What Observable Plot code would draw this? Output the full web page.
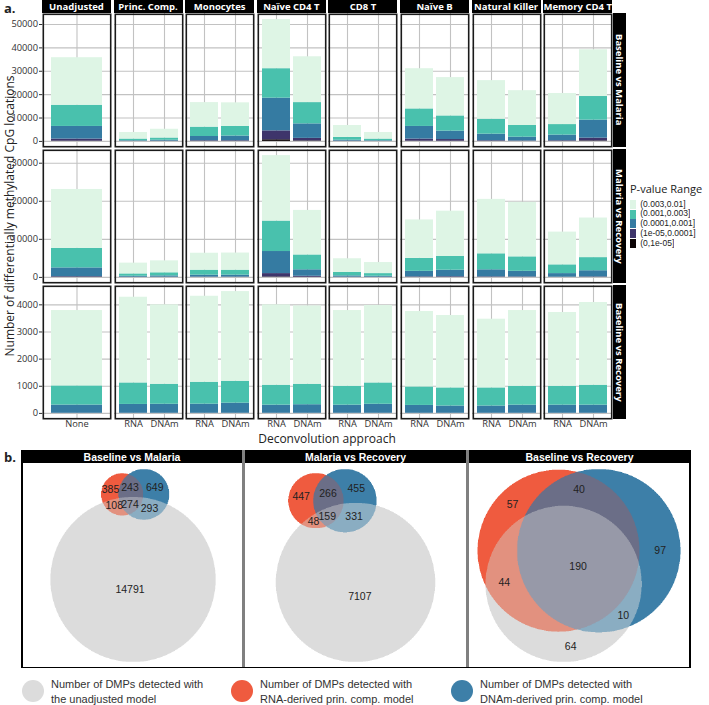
<!DOCTYPE html>
<html><head><meta charset="utf-8">
<script src="https://cdn.jsdelivr.net/npm/d3@7"></script>
<script src="https://cdn.jsdelivr.net/npm/@observablehq/plot@0.6"></script>
<style>
body{margin:0;background:#fff;}
#root{position:relative;width:709px;height:705px;overflow:hidden;font-family:"Open Sans",sans-serif;color:#222;}
.strip{position:absolute;background:#000;color:#fff;font-weight:700;font-size:9.5px;display:flex;align-items:center;justify-content:center;white-space:nowrap;overflow:hidden;}
.vstrip{writing-mode:vertical-rl;}
.bstrip{position:absolute;background:#000;color:#fff;font-weight:700;font-size:10.5px;font-family:"Liberation Sans",Arial,sans-serif;display:flex;align-items:center;justify-content:center;white-space:nowrap;}
.pleg-swatch{padding-bottom:0 !important;line-height:9.8px !important;height:9.8px;}
.bl{position:absolute;font-family:"Liberation Sans",Arial,sans-serif;font-size:11px;color:#333;line-height:14.5px;white-space:nowrap;}
.bdot{position:absolute;width:22px;height:22px;border-radius:50%;}
</style></head><body><div id="root"></div>
<script>
// ---------- DATA ----------
const cellTypes = ["Unadjusted","Princ. Comp.","Monocytes","Naïve CD4 T","CD8 T","Naïve B","Natural Killer","Memory CD4 T"];
const comparisons = ["Baseline vs Malaria","Malaria vs Recovery","Baseline vs Recovery"];
const pBins = ["(0,1e-05]","(1e-05,0.0001]","(0.0001,0.001]","(0.001,0.003]","(0.003,0.01]"];
const binColors = ["#0B0405","#3E356B","#357BA2","#49C1AD","#DEF5E5"];
// counts per bar, one value per p-value bin (lowest bin first)
const baselineVsMalaria = [
  ["Unadjusted","None",[100,900,5400,9066,20334]],
  ["Princ. Comp.","RNA",[20,60,220,710,2790]],
  ["Princ. Comp.","DNAm",[30,90,380,959,3741]],
  ["Monocytes","RNA",[60,240,1800,4000,10500]],
  ["Monocytes","DNAm",[60,240,2000,4100,10100]],
  ["Naïve CD4 T","RNA",[700,3800,14000,12600,21000]],
  ["Naïve CD4 T","DNAm",[200,1100,6200,9100,19600]],
  ["CD8 T","RNA",[30,120,350,1200,5100]],
  ["CD8 T","DNAm",[20,60,220,700,2800]],
  ["Naïve B","RNA",[100,900,5400,7500,17200]],
  ["Naïve B","DNAm",[80,720,3600,6500,16400]],
  ["Natural Killer","RNA",[40,260,2800,6400,16500]],
  ["Natural Killer","DNAm",[30,170,1600,5000,14900]],
  ["Memory CD4 T","RNA",[40,260,2400,4500,13300]],
  ["Memory CD4 T","DNAm",[200,1200,7700,10100,20000]]
];
const malariaVsRecovery = [
  ["Unadjusted","None",[30,170,2300,5145,15455]],
  ["Princ. Comp.","RNA",[10,40,250,620,2830]],
  ["Princ. Comp.","DNAm",[10,50,340,811,3139]],
  ["Monocytes","RNA",[10,70,520,1300,4450]],
  ["Monocytes","DNAm",[10,70,520,1300,4500]],
  ["Naïve CD4 T","RNA",[100,900,5800,8000,17200]],
  ["Naïve CD4 T","DNAm",[30,270,1700,3900,11700]],
  ["CD8 T","RNA",[10,50,340,900,3600]],
  ["CD8 T","DNAm",[10,40,250,700,2900]],
  ["Naïve B","RNA",[10,140,1450,3400,10100]],
  ["Naïve B","DNAm",[10,170,1720,3600,11900]],
  ["Natural Killer","RNA",[10,140,1850,4200,14300]],
  ["Natural Killer","DNAm",[10,110,1480,3800,14300]],
  ["Memory CD4 T","RNA",[10,50,940,2300,8600]],
  ["Memory CD4 T","DNAm",[10,120,1620,3450,10400]]
];
const baselineVsRecovery = [
  ["Unadjusted","None",[0,5,303,705,2777]],
  ["Princ. Comp.","RNA",[0,5,326,792,3157]],
  ["Princ. Comp.","DNAm",[0,5,332,738,2925]],
  ["Monocytes","RNA",[0,5,336,808,3167]],
  ["Monocytes","DNAm",[0,5,373,807,3303]],
  ["Naïve CD4 T","RNA",[0,5,300,734,2961]],
  ["Naïve CD4 T","DNAm",[0,5,315,755,2885]],
  ["CD8 T","RNA",[0,5,300,695,2790]],
  ["CD8 T","DNAm",[0,5,332,786,2852]],
  ["Naïve B","RNA",[0,5,289,682,2778]],
  ["Naïve B","DNAm",[0,5,267,668,2667]],
  ["Natural Killer","RNA",[0,5,267,668,2531]],
  ["Natural Killer","DNAm",[0,5,300,695,2790]],
  ["Memory CD4 T","RNA",[0,5,300,695,2717]],
  ["Memory CD4 T","DNAm",[0,5,300,734,3046]]
];
const rowTicks = [[0,10000,20000,30000,40000,50000],[0,10000,20000,30000],[0,1000,2000,3000,4000]];
// Venn region counts: [unadj only, RNA only, DNAm only, unadj&RNA, unadj&DNAm, RNA&DNAm, all three]
const vennBM = [14791,385,649,108,293,243,274];
const vennMR = [7107,447,455,48,331,266,159];
const vennBR = [64,57,97,44,10,40,190];
const vennSets = ["Number of DMPs detected with\nthe unadjusted model","Number of DMPs detected with\nRNA-derived prin. comp. model","Number of DMPs detected with\nDNAm-derived prin. comp. model"];
const setColors = ["#dcdcdc","#ef5b3f","#3d7fa8"];
const regionColors = {1:"#dcdcdc",2:"#ef5b3f",4:"#3d7fa8",3:"#e2917f",5:"#8aadc2",6:"#6b6e87",7:"#9799a8"};

// ---------- LAYOUT HELPERS ----------
const root = document.getElementById("root");
function place(el, left, top){ el.style.position="absolute"; el.style.left=left+"px"; el.style.top=top+"px"; root.appendChild(el); return el; }
function div(cls, text){ const d=document.createElement("div"); if(cls) d.className=cls; if(text!=null) d.textContent=text; return d; }

// ---------- PART A ----------
const allCounts = [baselineVsMalaria, malariaVsRecovery, baselineVsRecovery];
const panelLeft = i => 42 + i*71.6;
const panelW = 69, rowTop = [13,149,285], rowH = 134;

const lab = place(div(null,"a."), 4, 0);
Object.assign(lab.style,{fontWeight:"700",fontSize:"13px",lineHeight:"17px"});

cellTypes.forEach((ct,c) => {
  const s = place(div("strip", ct), panelLeft(c), 0);
  s.style.width = panelW+"px"; s.style.height = "13px";
});
comparisons.forEach((cmp,r) => {
  const s = place(div("strip"), 613, rowTop[r]);
  s.style.width="13px"; s.style.height=rowH+"px";
  const sp = document.createElement("span"); sp.className="vstrip"; sp.textContent=cmp; s.appendChild(sp);
});

allCounts.forEach((counts, r) => {
  const maxTotal = d3.max(counts, d => d3.sum(d[2]));
  cellTypes.forEach((ct, c) => {
    const rows = counts.filter(d => d[0] === ct);
    const methods = rows.map(d => d[1]);
    const data = rows.flatMap(([, m, v]) => v.map((n,k) => ({method:m, bin:pBins[k], count:n})));
    const ml = c === 0 ? 42 : 0, mb = r === 2 ? 12 : 0;
    const svg = Plot.plot({
      width: ml + panelW, height: rowH + mb,
      marginLeft: ml, marginRight: 0, marginTop: 0, marginBottom: mb,
      style: {fontFamily:"Open Sans", fontSize:"9.3px", color:"#333", background:"transparent", overflow:"visible"},
      x: {domain: methods, paddingInner: 0.1, paddingOuter: 0.15, align: 0.5, axis: null},
      y: {domain: [-0.05*maxTotal, 1.05*maxTotal], axis: null},
      color: {domain: pBins, range: binColors},
      marks: [
        Plot.gridY(rowTicks[r], {stroke:"#c2c2c2", strokeOpacity:1, strokeWidth:1.1}),
        Plot.gridX(methods, {stroke:"#c2c2c2", strokeOpacity:1, strokeWidth:1.1}),
        Plot.barY(data, {x:"method", y:"count", fill:"bin"}),
        c === 0 ? Plot.axisY(rowTicks[r], {tickSize:3, tickPadding:1.5, tickFormat:d3.format("d"), label:null, stroke:"#333"}) : null,
        r === 2 ? Plot.axisX(methods, {tickSize:0, tickPadding:1, label:null}) : null,
        Plot.frame({stroke:"#1a1a1a", strokeWidth:1.6, inset:0.8})
      ]
    });
    place(svg, panelLeft(c) - ml, rowTop[r]);
  });
});

const yt = place(div(null,"Number of differentially methylated CpG locations"), 10-180, 216-8);
Object.assign(yt.style,{width:"360px",height:"16px",lineHeight:"16px",textAlign:"center",fontSize:"12px",transform:"rotate(-90deg)",whiteSpace:"nowrap"});
const xt = place(div(null,"Deconvolution approach"), 327-100, 432.5);
Object.assign(xt.style,{width:"200px",textAlign:"center",fontSize:"12px",lineHeight:"12px"});

const lt = place(div(null,"P-value Range"), 630, 181);
lt.style.fontSize="11px";
const leg = Plot.legend({
  legend:"swatches", color:{domain: pBins.slice().reverse(), range: binColors.slice().reverse()},
  columns:1, swatchWidth:6, swatchHeight:9, className:"pleg",
  style:{fontFamily:"Liberation Sans, Arial, sans-serif", fontSize:"8.5px", color:"#222"}
});
place(leg, 630, 199.5);

// ---------- PART B ----------
const labB = place(div(null,"b."), 4, 449);
Object.assign(labB.style,{fontWeight:"700",fontSize:"13px",lineHeight:"17px"});

function lensArea(r1,r2,d){
  if (d >= r1+r2) return 0;
  if (d <= Math.abs(r1-r2)) return Math.PI*Math.min(r1,r2)**2;
  const a = r1*r1*Math.acos((d*d+r1*r1-r2*r2)/(2*d*r1));
  const b = r2*r2*Math.acos((d*d+r2*r2-r1*r1)/(2*d*r2));
  const c = 0.5*Math.sqrt((-d+r1+r2)*(d+r1-r2)*(d-r1+r2)*(d+r1+r2));
  return a+b-c;
}
function distFor(r1,r2,area){
  let lo=Math.abs(r1-r2)+1e-9, hi=r1+r2;
  for (let i=0;i<80;i++){ const m=(lo+hi)/2; if (lensArea(r1,r2,m) > area) lo=m; else hi=m; }
  return (lo+hi)/2;
}
function vennLayout(v){
  const [g,r,b,gr,gb,rb,grb] = v;
  const nG=g+gr+gb+grb, nR=r+gr+rb+grb, nB=b+gb+rb+grb;
  const rG=Math.sqrt(nG/Math.PI), rR=Math.sqrt(nR/Math.PI), rB=Math.sqrt(nB/Math.PI);
  const dGR=distFor(rG,rR,gr+grb), dGB=distFor(rG,rB,gb+grb), dRB=distFor(rR,rB,rb+grb);
  const gx=(dGR*dGR-dGB*dGB+dRB*dRB)/(2*dRB);
  const gy=-Math.sqrt(Math.max(0,dGR*dGR-gx*gx));
  return [{cx:gx,cy:gy,r:rG,bit:1},{cx:0,cy:0,r:rR,bit:2},{cx:dRB,cy:0,r:rB,bit:4}];
}
const maskOf = (circ,x,y) => circ.reduce((m,c)=> m | (((x-c.cx)**2+(y-c.cy)**2 <= c.r*c.r) ? c.bit : 0), 0);

const vennData = [vennBM, vennMR, vennBR];
const vLeft = [22, 243, 467], vWidth = [221, 224, 223], vTop = 463, vH = 204;
const regionMasks = [1,2,4,3,5,6,7];

vennData.forEach((v, i) => {
  const circ = vennLayout(v);
  const x0=d3.min(circ,c=>c.cx-c.r), x1=d3.max(circ,c=>c.cx+c.r);
  const y0=d3.min(circ,c=>c.cy-c.r), y1=d3.max(circ,c=>c.cy+c.r);
  const W=vWidth[i], H=vH;
  const k = 0.946*Math.min(W/(x1-x0), H/(y1-y0));
  const mx=(x0+x1)/2, my=(y0+y1)/2;
  const xd=[mx-W/(2*k), mx+W/(2*k)], yd=[my-H/(2*k), my+H/(2*k)];
  // label positions: point of each region furthest from any circle boundary
  const best = {};
  const N=220;
  for (let a=0;a<=N;a++) for (let b=0;b<=N;b++){
    const x=x0+(x1-x0)*a/N, y=y0+(y1-y0)*b/N;
    const m=maskOf(circ,x,y); if(!m) continue;
    const dist=d3.min(circ,c=>Math.abs(Math.hypot(x-c.cx,y-c.cy)-c.r));
    if(!best[m] || dist>best[m].d) best[m]={x,y,d:dist};
  }
  const labels = regionMasks.map((m,j)=>({x:best[m]?.x, y:best[m]?.y, label:String(v[j])})).filter(d=>d.x!=null && +d.label>0);
  const svg = Plot.plot({
    width:W, height:H, margin:0,
    style:{background:"transparent", fontFamily:"Liberation Sans, Arial, sans-serif"},
    x:{domain:xd, axis:null}, y:{domain:yd, axis:null},
    color:{type:"identity"},
    marks:[
      Plot.raster({x1:xd[0], x2:xd[1], y1:yd[0], y2:yd[1], width:W*3, height:H*3, imageRendering:"auto",
        fill:(x,y)=>{ const m=maskOf(circ,x,y); return m ? regionColors[m] : "#ffffff"; }}),
      Plot.text(labels,{x:"x", y:"y", text:"label", fontSize:10.5, fill:"#222"})
    ]
  });
  place(svg, vLeft[i], vTop);
  const h = place(div("bstrip", comparisons[i]), vLeft[i] + (i?2:0), 450);
  h.style.width = (vWidth[i] - (i?2:0) - (i<2?1:0))+"px"; h.style.height="13px";
});
// panel borders
function line(l,t,w,h,col){ const d=place(div(null),l,t); Object.assign(d.style,{width:w+"px",height:h+"px",background:col}); }
line(21, 450, 1.5, 218, "#000");
line(242, 450, 3, 218, "#808080");
line(466, 450, 3, 218, "#808080");
line(689, 450, 1.5, 218, "#000");
line(21, 666.5, 670, 1.5, "#000");

// bottom legend
const legX = [33, 242, 462];
vennSets.forEach((t,i)=>{
  const d = place(div("bdot"), legX[i]-11, 680); d.style.background = setColors[i];
  const tx = place(div("bl"), legX[i]+18, 677);
  tx.innerHTML = t.replace("\n","<br>");
});
</script></body></html>
